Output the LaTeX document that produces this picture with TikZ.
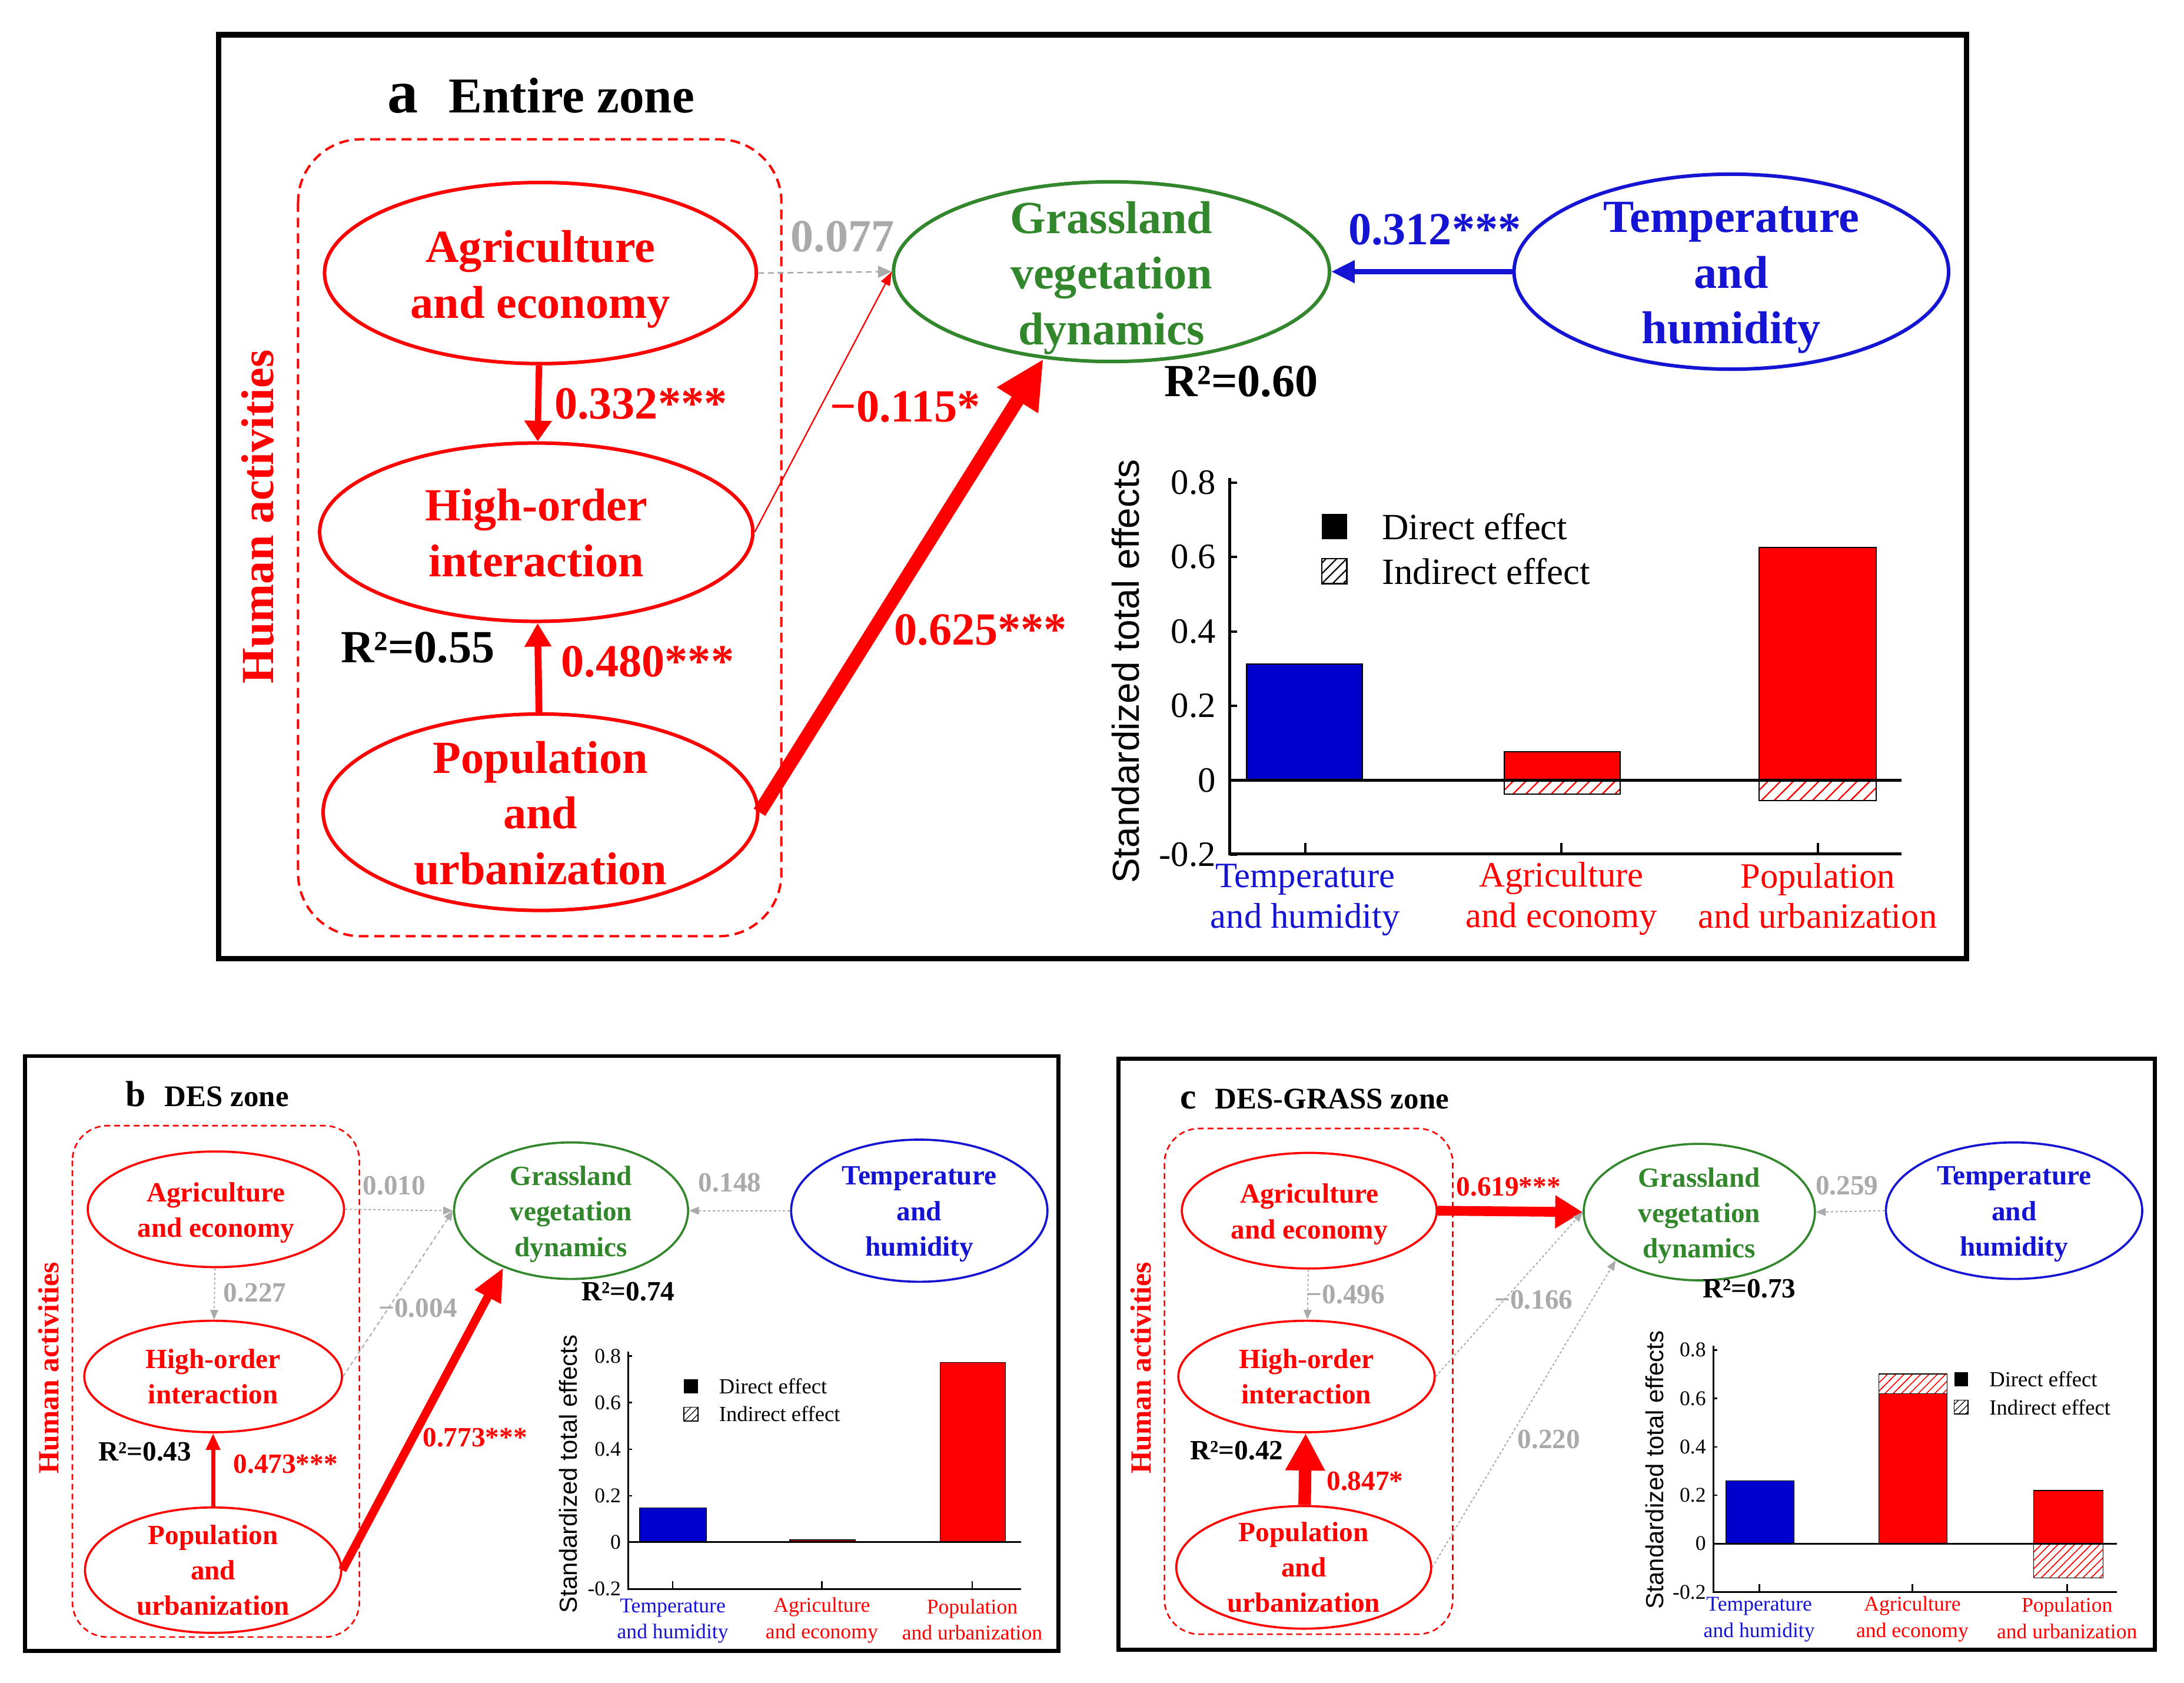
\documentclass[tikz,border=0pt]{standalone}
\usepackage{fontspec}
\setmainfont{Liberation Serif}
\newfontfamily\sansf{Liberation Sans}
\usetikzlibrary{shapes.geometric,arrows.meta,patterns.meta}
\definecolor{myred}{RGB}{255,0,0}
\definecolor{mygreen}{RGB}{50,135,45}
\definecolor{myblue}{RGB}{20,20,210}
\definecolor{barblue}{RGB}{0,0,205}
\definecolor{mygray}{RGB}{170,170,170}
\def\uu{0.025cm}
\newcommand\fA{\fontsize{23.5pt}{28.4pt}\selectfont\bfseries}
\newcommand\fB{\fontsize{14.2pt}{18.1pt}\selectfont\bfseries}
\newcommand\tA{\fontsize{18.2pt}{20.6pt}\selectfont}
\newcommand\tB{\fontsize{10.7pt}{13.5pt}\selectfont}
\newcommand\lgA{\fontsize{18.9pt}{20pt}\selectfont}
\newcommand\lgB{\fontsize{11pt}{12pt}\selectfont}
\tikzset{
 every node/.style={inner sep=0pt},
 ellA/.style={ellipse, draw, line width=1.8pt},
 ellB/.style={ellipse, draw, line width=1.1pt},
 txtA/.style={align=center, font=\fA, yshift=-3.2pt},
 txtB/.style={align=center, font=\fB, yshift=-1.8pt},
 txtAn/.style={align=center, font=\fA, yshift=-0.4pt},
 txtBn/.style={align=center, font=\fB, yshift=0pt},
 lblA/.style={font=\fA},
 lblB/.style={font=\fB},
 grayarr/.style={draw=mygray, line width=0.6pt, dash pattern=on 1.2pt off 1.2pt, -{Triangle[length=5pt,width=4pt]}},
 hatchred/.style={pattern={Lines[angle=45,distance=4.6pt,line width=0.7pt]}, pattern color=myred},
 hatchredB/.style={pattern={Lines[angle=45,distance=3pt,line width=0.5pt]}, pattern color=myred},
 hatchblk/.style={pattern={Lines[angle=45,distance=4pt,line width=0.7pt]}, pattern color=black},
 hatchblkB/.style={pattern={Lines[angle=45,distance=2.5pt,line width=0.4pt]}, pattern color=black},
 barout/.style={draw=black, line width=0.6pt},
 baroutB/.style={draw=black, line width=0.4pt},
 grouprect/.style={draw=myred, dash pattern=on 5pt off 3pt, line width=1.2pt},
 grouprectB/.style={draw=myred, dash pattern=on 3pt off 2pt, line width=0.8pt},
}
\begin{document}
\begin{tikzpicture}[x=0.025cm,y=-0.025cm]
\useasboundingbox (0,0) rectangle (1568,1208);
\fill[white] (0,0) rectangle (1568,1208);

%%%%%%%%%%%%%%%% PANEL A %%%%%%%%%%%%%%%%
\draw[line width=2.8pt] (157,25) rectangle (1412,688);
\node[anchor=base west, font=\fontsize{31.3pt}{32pt}\selectfont\bfseries] (ta1) at (278,81) {a};
\node[anchor=base west, font=\fontsize{25.6pt}{27pt}\selectfont\bfseries] (ta2) at (322,81) {Entire zone};
\draw[grouprect, rounded corners=1.125cm] (214,100) rectangle (561,672);
\node[rotate=90, font=\fA, text=myred] (ha) at (185,371) {Human activities};

\node[ellA, draw=myred, minimum width=310*\uu, minimum height=130*\uu] (aA) at (388,196) {};
\node[ellA, draw=myred, minimum width=311*\uu, minimum height=128*\uu] (aH) at (385,382) {};
\node[ellA, draw=myred, minimum width=312*\uu, minimum height=141*\uu] (aP) at (388,583) {};
\node[ellA, draw=mygreen, minimum width=313*\uu, minimum height=129*\uu] (aG) at (798,195) {};
\node[ellA, draw=myblue, minimum width=312*\uu, minimum height=140*\uu] (aT) at (1243,195) {};
\node[txtA, text=myred] (aAt) at (aA) {Agriculture\\and economy};
\node[txtAn, text=myred] (aHt) at (aH) {High-order\\interaction};
\node[txtAn, text=myred] (aPt) at (aP) {Population\\and\\urbanization};
\node[txtA, text=mygreen] (aGt) at (aG) {Grassland\\vegetation\\dynamics};
\node[txtA, text=myblue] (aTt) at (aT) {Temperature\\and\\humidity};

\draw[myred, line width=3.2pt, -{Triangle[length=10.5pt,width=13.5pt]}] (aA) -- (aH);
\draw[myred, line width=3.5pt, -{Triangle[length=12pt,width=13pt]}] (aP) -- (aH);
\draw[mygray, dash pattern=on 3pt off 2pt, line width=0.8pt, -{Triangle[length=7pt,width=6pt]}] (aA.east) -- (aG.west);
\draw[myred, line width=0.7pt, -{Triangle[length=7pt,width=5pt]}] (aH.east) -- (aG.west);
\draw[myred, line width=7pt, -{Triangle[length=25pt,width=23pt]}] (aP.east) -- (aG.232);
\draw[myblue, line width=2.8pt, -{Triangle[length=12pt,width=11pt]}] (aT.west) -- (aG.east);

\node[lblA, text=myred] (la1) at (460,290) {0.332***};
\node[lblA, text=myred] (la2) at (465,475) {0.480***};
\node[lblA] (la3) at (300,465) {R²=0.55};
\node[lblA, text=mygray] (la4) at (605,170) {0.077};
\node[lblA, text=myred] (la5) at (650,292) {−0.115*};
\node[lblA, text=myred] (la6) at (704,452) {0.625***};
\node[lblA, text=myblue] (la7) at (1030,165) {0.312***};
\node[lblA] (la8) at (891,274) {R²=0.60};

% chart a
\fill[barblue] (895,560) rectangle (978,476.7);
\draw[barout] (895,560) rectangle (978,476.7);
\fill[myred] (1080,560) rectangle (1163,539.4);
\draw[barout] (1080,560) rectangle (1163,539.4);
\path[hatchred] (1080,560) rectangle (1163,570.1);
\draw[barout] (1080,560) rectangle (1163,570.1);
\fill[myred] (1263,560) rectangle (1347,393.1);
\draw[barout] (1263,560) rectangle (1347,393.1);
\path[hatchred] (1263,560) rectangle (1347,574.7);
\draw[barout] (1263,560) rectangle (1347,574.7);
\draw[line width=1.4pt] (883,343) -- (883,613) -- (1365,613);
\draw[line width=1.4pt] (883,560) -- (1365,560);
\foreach \v/\lab [count=\i] in {0.8/0.8,0.6/0.6,0.4/0.4,0.2/0.2,0/0,-0.2/-0.2}{
  \draw[line width=1.2pt] (883,{560-\v*267}) -- ++(5,0);
  \node[anchor=east, font=\tA] (tka\i) at (873,{560-\v*267}) {\lab};
}
\foreach \x in {937,1121,1305}{\draw[line width=1.2pt] (\x,613) -- (\x,605);}
\node[rotate=90, font=\sansf\fontsize{19.2pt}{20pt}\selectfont] (ya) at (808,482) {Standardized total effects};
\fill (949,369) rectangle (967,387);
\path[hatchblk] (949,401) rectangle (967,419);
\draw[line width=0.8pt] (949,401) rectangle (967,419);
\node[anchor=west, font=\lgA] (lga1) at (992,378) {Direct effect};
\node[anchor=west, font=\lgA] (lga2) at (992,410) {Indirect effect};
\node[align=center, font=\tA, text=myblue] (ca1) at (937,646) {Temperature\\and humidity};
\node[align=center, font=\tA, text=myred] (ca2) at (1121,645) {Agriculture\\and economy};
\node[align=center, font=\tA, text=myred] (ca3) at (1305,643) {Population\\and urbanization};

%%%%%%%%%%%%%%%% PANEL B %%%%%%%%%%%%%%%%
\draw[line width=2pt] (18,758) rectangle (760,1185);
\node[anchor=base west, font=\fontsize{18.5pt}{19pt}\selectfont\bfseries] (tb1) at (90,794) {b};
\node[anchor=base west, font=\fontsize{15.3pt}{16pt}\selectfont\bfseries] (tb2) at (118,794) {DES zone};
\draw[grouprectB, rounded corners=0.625cm] (52,808) rectangle (258,1175);
\node[rotate=90, font=\fontsize{14.9pt}{16pt}\selectfont\bfseries, text=myred] (hb) at (35,982) {Human activities};

\node[ellB, draw=myred, minimum width=184*\uu, minimum height=83*\uu] (bA) at (155,868) {};
\node[ellB, draw=myred, minimum width=185*\uu, minimum height=80*\uu] (bH) at (153,988) {};
\node[ellB, draw=myred, minimum width=184*\uu, minimum height=90*\uu] (bP) at (153,1127) {};
\node[ellB, draw=mygreen, minimum width=168*\uu, minimum height=98*\uu] (bG) at (410,869) {};
\node[ellB, draw=myblue, minimum width=184*\uu, minimum height=102*\uu] (bT) at (660,869) {};
\node[txtB, text=myred] (bAt) at (bA) {Agriculture\\and economy};
\node[txtBn, text=myred] (bHt) at (bH) {High-order\\interaction};
\node[txtBn, text=myred] (bPt) at (bP) {Population\\and\\urbanization};
\node[txtB, text=mygreen] (bGt) at (bG) {Grassland\\vegetation\\dynamics};
\node[txtB, text=myblue] (bTt) at (bT) {Temperature\\and\\humidity};

\draw[grayarr] (bA) -- (bH);
\draw[myred, line width=2.1pt, -{Triangle[length=8.5pt,width=7pt]}] (bP) -- (bH);
\draw[grayarr] (bA.east) -- (bG.west);
\draw[grayarr, dash pattern=on 2pt off 1.5pt] (bH.east) -- (bG.west);
\draw[myred, line width=4.3pt, -{Triangle[length=17pt,width=14pt]}] (bP.east) -- (bG.220);
\draw[grayarr] (bT.west) -- (bG.east);

\node[lblB, text=mygray] (lb1) at (183,928) {0.227};
\node[lblB, text=myred] (lb2) at (205,1051) {0.473***};
\node[lblB] (lb3) at (104,1042) {R²=0.43};
\node[lblB, text=mygray] (lb4) at (283,851) {0.010};
\node[lblB, text=mygray] (lb5) at (300,939) {−0.004};
\node[lblB, text=myred] (lb6) at (341,1032) {0.773***};
\node[lblB, text=mygray] (lb7) at (524,849) {0.148};
\node[lblB] (lb8) at (451,927) {R²=0.74};

% chart b
\fill[barblue] (459,1107) rectangle (507,1082.3);
\draw[baroutB] (459,1107) rectangle (507,1082.3);
\fill[myred] (567,1107) rectangle (614,1105.3);
\draw[baroutB] (567,1107) rectangle (614,1105.3);
\fill[myred] (675,1107) rectangle (722,977.9);
\draw[baroutB] (675,1107) rectangle (722,977.9);
\draw[line width=0.9pt] (451,970) -- (451,1140.4) -- (733,1140.4);
\draw[line width=0.9pt] (451,1107) -- (733,1107);
\foreach \v/\lab [count=\i] in {0.8/0.8,0.6/0.6,0.4/0.4,0.2/0.2,0/0,-0.2/-0.2}{
  \draw[line width=0.8pt] (451,{1107-\v*167}) -- ++(3,0);
  \node[anchor=east, font=\tB] (tkb\i) at (446,{1107-\v*167}) {\lab};
}
\foreach \x in {483,590,698}{\draw[line width=0.8pt] (\x,1140.4) -- (\x,1135);}
\node[rotate=90, font=\sansf\fontsize{12.6pt}{13pt}\selectfont] (yb) at (408,1058) {Standardized total effects};
\fill (491,990) rectangle (501,1000);
\path[hatchblkB] (491,1010) rectangle (501,1020);
\draw[line width=0.5pt] (491,1010) rectangle (501,1020);
\node[anchor=west, font=\lgB] (lgb1) at (516,995) {Direct effect};
\node[anchor=west, font=\lgB] (lgb2) at (516,1015) {Indirect effect};
\node[align=center, font=\tB, text=myblue] (cb1) at (483,1163.5) {Temperature\\and humidity};
\node[align=center, font=\tB, text=myred] (cb2) at (590,1163) {Agriculture\\and economy};
\node[align=center, font=\tB, text=myred] (cb3) at (698,1162.5) {Population\\and urbanization};

%%%%%%%%%%%%%%%% PANEL C %%%%%%%%%%%%%%%%
\draw[line width=2pt] (803,760) rectangle (1547,1184);
\node[anchor=base west, font=\fontsize{18.5pt}{19pt}\selectfont\bfseries] (tc1) at (847,796) {c};
\node[anchor=base west, font=\fontsize{15.3pt}{16pt}\selectfont\bfseries] (tc2) at (872,796) {DES-GRASS zone};
\draw[grouprectB, rounded corners=0.625cm] (836,810) rectangle (1043,1173);
\node[rotate=90, font=\fontsize{14.9pt}{16pt}\selectfont\bfseries, text=myred] (hc) at (819,982) {Human activities};

\node[ellB, draw=myred, minimum width=183*\uu, minimum height=83*\uu] (cA) at (940,869) {};
\node[ellB, draw=myred, minimum width=184*\uu, minimum height=80*\uu] (cH) at (938,988) {};
\node[ellB, draw=myred, minimum width=183*\uu, minimum height=88*\uu] (cP) at (936,1125) {};
\node[ellB, draw=mygreen, minimum width=166*\uu, minimum height=98*\uu] (cG) at (1220,870) {};
\node[ellB, draw=myblue, minimum width=184*\uu, minimum height=98*\uu] (cT) at (1446,869) {};
\node[txtB, text=myred] (cAt) at (cA) {Agriculture\\and economy};
\node[txtBn, text=myred] (cHt) at (cH) {High-order\\interaction};
\node[txtBn, text=myred] (cPt) at (cP) {Population\\and\\urbanization};
\node[txtB, text=mygreen] (cGt) at (cG) {Grassland\\vegetation\\dynamics};
\node[txtB, text=myblue] (cTt) at (cT) {Temperature\\and\\humidity};

\draw[myred, line width=5pt, -{Triangle[length=14pt,width=16pt]}] (cA.east) -- (cG.west);
\draw[grayarr] (cA) -- (cH);
\draw[myred, line width=6.4pt, -{Triangle[length=19pt,width=19pt]}] (cP) -- (cH);
\draw[grayarr] (cH.east) -- (cG.west);
\draw[grayarr] (cP.east) -- (cG.210);
\draw[grayarr] (cT.west) -- (cG.east);

\node[lblB, text=myred] (lc1) at (1083,852) {0.619***};
\node[lblB, text=mygray] (lc2) at (966,929) {−0.496};
\node[lblB, text=myred] (lc3) at (980,1063) {0.847*};
\node[lblB] (lc4) at (888,1041) {R²=0.42};
\node[lblB, text=mygray] (lc5) at (1101,933) {−0.166};
\node[lblB, text=mygray] (lc6) at (1112,1033) {0.220};
\node[lblB, text=mygray] (lc7) at (1326,851) {0.259};
\node[lblB] (lc8) at (1256,925) {R²=0.73};

% chart c
\fill[barblue] (1239,1108) rectangle (1288,1063);
\draw[baroutB] (1239,1108) rectangle (1288,1063);
\fill[myred] (1349,1108) rectangle (1398,1000.4);
\draw[baroutB] (1349,1108) rectangle (1398,1000.4);
\path[hatchredB] (1349,1000.4) rectangle (1398,986.2);
\draw[baroutB] (1349,1000.4) rectangle (1398,986.2);
\fill[myred] (1460,1108) rectangle (1510,1069.8);
\draw[baroutB] (1460,1108) rectangle (1510,1069.8);
\path[hatchredB] (1460,1108) rectangle (1510,1132.5);
\draw[baroutB] (1460,1108) rectangle (1510,1132.5);
\draw[line width=0.9pt] (1230,966) -- (1230,1142.75) -- (1520,1142.75);
\draw[line width=0.9pt] (1230,1108) -- (1520,1108);
\foreach \v/\lab [count=\i] in {0.8/0.8,0.6/0.6,0.4/0.4,0.2/0.2,0/0,-0.2/-0.2}{
  \draw[line width=0.8pt] (1230,{1108-\v*173.75}) -- ++(3,0);
  \node[anchor=east, font=\tB] (tkc\i) at (1225,{1108-\v*173.75}) {\lab};
}
\foreach \x in {1263,1373,1484}{\draw[line width=0.8pt] (\x,1142.75) -- (\x,1137);}
\node[rotate=90, font=\sansf\fontsize{12.6pt}{13pt}\selectfont] (yc) at (1188,1055) {Standardized total effects};
\fill (1403,985) rectangle (1413,995);
\path[hatchblkB] (1403,1005) rectangle (1413,1015);
\draw[line width=0.5pt] (1403,1005) rectangle (1413,1015);
\node[anchor=west, font=\lgB] (lgc1) at (1428,990) {Direct effect};
\node[anchor=west, font=\lgB] (lgc2) at (1428,1010) {Indirect effect};
\node[align=center, font=\tB, text=myblue] (cc1) at (1263,1162.5) {Temperature\\and humidity};
\node[align=center, font=\tB, text=myred] (cc2) at (1373,1162) {Agriculture\\and economy};
\node[align=center, font=\tB, text=myred] (cc3) at (1484,1161.5) {Population\\and urbanization};
\end{tikzpicture}
\end{document}
